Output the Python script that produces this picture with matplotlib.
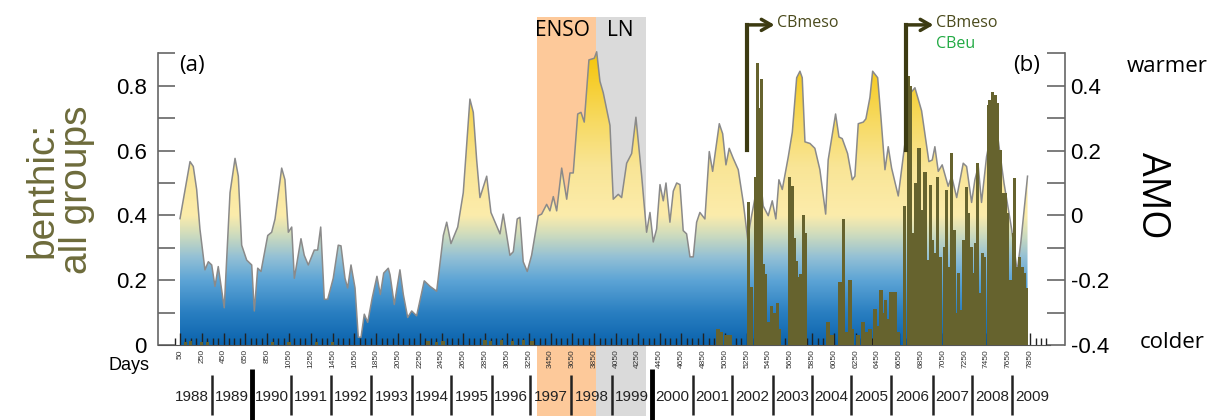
import numpy as np
import matplotlib
matplotlib.use("Agg")
import matplotlib.pyplot as plt
from matplotlib.colors import LinearSegmentedColormap
from matplotlib.transforms import blended_transform_factory
from matplotlib.patches import Rectangle

plt.rcParams['axes.unicode_minus'] = False
plt.rcParams['font.family'] = ['Liberation Sans', 'DejaVu Sans']

# AMO index (right axis), day number vs value
amo_days = [50, 142, 172, 203, 233, 279, 310, 341, 371, 401, 456, 509, 555, 585, 616, 662,
            708, 732, 763, 793, 855, 891, 922, 983, 1013, 1044, 1075, 1099, 1160, 1190, 1227,
            1282, 1313, 1341, 1374, 1405, 1456, 1502, 1527, 1564, 1588, 1619, 1656, 1686, 1711,
            1741, 1772, 1814, 1857, 1888, 1919, 1961, 1977, 2016, 2068, 2099, 2139, 2176, 2221,
            2291, 2344, 2405, 2466, 2497, 2536, 2598, 2649, 2710, 2741, 2772, 2802, 2864, 2903,
            2986, 3016, 3077, 3108, 3144, 3169, 3199, 3236, 3276, 3337, 3368, 3414, 3444, 3475,
            3506, 3552, 3598, 3628, 3658, 3699, 3729, 3759, 3802, 3851, 3873, 3903, 3933, 3995,
            4025, 4071, 4102, 4148, 4194, 4233, 4286, 4331, 4362, 4392, 4423, 4454, 4484, 4509,
            4545, 4576, 4607, 4637, 4667, 4698, 4729, 4759, 4790, 4820, 4866, 4906, 4937, 4998,
            5029, 5059, 5089, 5126, 5172, 5218, 5258, 5295, 5340, 5380, 5401, 5447, 5484, 5517,
            5545, 5576, 5631, 5668, 5708, 5738, 5759, 5784, 5830, 5875, 5921, 5974, 5997, 6065,
            6096, 6126, 6175, 6218, 6242, 6273, 6319, 6343, 6380, 6405, 6451, 6481, 6518, 6548,
            6579, 6640, 6701, 6756, 6793, 6854, 6891, 6921, 6952, 6976, 7007, 7043, 7098, 7130,
            7176, 7236, 7267, 7313, 7343, 7374, 7404, 7450, 7490, 7530, 7570, 7610, 7650, 7680,
            7731, 7765, 7826]
amo_vals = [-0.01, 0.166, 0.151, 0.08, -0.042, -0.168, -0.143, -0.153, -0.219, -0.158, -0.285,
            0.07, 0.176, 0.121, -0.092, -0.138, -0.153, -0.295, -0.163, -0.173, -0.062, -0.052,
            -0.011, 0.146, 0.11, -0.052, -0.036, -0.194, -0.072, -0.123, -0.153, -0.107, -0.107,
            -0.036, -0.259, -0.259, -0.194, -0.092, -0.094, -0.194, -0.224, -0.153, -0.224,
            -0.376, -0.376, -0.305, -0.33, -0.254, -0.188, -0.244, -0.178, -0.163, -0.183,
            -0.275, -0.168, -0.244, -0.315, -0.295, -0.31, -0.202, -0.219, -0.234, -0.062,
            -0.021, -0.087, -0.036, 0.07, 0.359, 0.318, 0.171, 0.055, 0.121, 0.009, -0.057,
            0.004, -0.123, -0.112, -0.011, -0.006, -0.143, -0.173, -0.123, -0.001, 0.004, 0.034,
            0.014, 0.058, 0.014, 0.146, 0.05, 0.131, 0.131, 0.313, 0.318, 0.288, 0.48, 0.485,
            0.505, 0.414, 0.379, 0.278, 0.05, 0.065, 0.055, 0.161, 0.191, 0.303, 0.121, -0.052,
            0.009, -0.082, -0.042, 0.095, 0.045, 0.1, -0.021, 0.075, 0.1, 0.095, -0.047, -0.057,
            -0.128, -0.128, -0.021, 0.009, -0.011, 0.197, 0.136, 0.283, 0.252, 0.156, 0.207,
            0.176, 0.141, 0.04, -0.072, 0.0, 0.08, 0.1, 0.029, -0.001, 0.045, -0.011, 0.11, 0.08,
            0.181, 0.257, 0.425, 0.445, 0.425, 0.227, 0.222, 0.207, 0.141, 0.004, 0.171, 0.313,
            0.242, 0.237, 0.191, 0.11, 0.121, 0.283, 0.288, 0.298, 0.364, 0.445, 0.425, 0.303,
            0.141, 0.212, 0.146, 0.06, 0.222, 0.379, 0.394, 0.323, 0.237, 0.166, 0.171, 0.212,
            0.136, 0.156, 0.09, 0.121, 0.055, 0.161, 0.151, 0.04, 0.11, 0.151, 0.04, 0.181, 0.25,
            0.3, 0.2, 0.1, 0.02, -0.042, -0.173, -0.082, 0.121]

# benthic: all groups (left axis)
bar_days = [100, 150, 250, 300, 900, 1050, 1300, 1450, 2325, 2400, 2463, 2848, 2900, 3000,
            3100, 3200, 3279, 4986, 5022, 5059, 5096,
            5264, 5295, 5332, 5346, 5371, 5387, 5401, 5423, 5447, 5478, 5502, 5533, 5554,
            5646, 5667, 5691, 5707, 5728, 5747, 5768, 5790,
            5995, 6032, 6105, 6138, 6160, 6197, 6224, 6270, 6316, 6353, 6380, 6426, 6453, 6481,
            6499, 6522, 6545, 6573, 6591, 6610, 6637,
            6701, 6731, 6756, 6777, 6799, 6830, 6854, 6885, 6903, 6933, 6958, 6976, 7001, 7031,
            7061, 7084, 7105, 7130, 7154, 7176, 7190, 7221, 7243, 7267, 7288, 7307, 7328, 7350,
            7368, 7389, 7410, 7435, 7465, 7481, 7502, 7520, 7533, 7552, 7573, 7594, 7619, 7637,
            7655, 7674, 7695, 7710, 7731, 7756, 7777, 7795, 7818]
bar_vals = [0.01, 0.012, 0.01, 0.008, 0.01, 0.01, 0.008, 0.01, 0.012, 0.01, 0.012, 0.015, 0.012,
            0.015, 0.012, 0.015, 0.012, 0.05, 0.04, 0.03, 0.03,
            0.44, 0.18, 0.52, 0.87, 0.73, 0.82, 0.25, 0.22, 0.07, 0.12, 0.10, 0.13, 0.05,
            0.52, 0.49, 0.33, 0.26, 0.21, 0.22, 0.40, 0.345,
            0.07, 0.03, 0.195, 0.39, 0.04, 0.20, 0.05, 0.03, 0.07, 0.04, 0.05, 0.11, 0.06, 0.17,
            0.10, 0.14, 0.08, 0.165, 0.06, 0.165, 0.04,
            0.43, 0.83, 0.80, 0.345, 0.50, 0.607, 0.417, 0.535, 0.262, 0.494, 0.324, 0.283,
            0.52, 0.273, 0.303, 0.478, 0.242, 0.592, 0.355, 0.098, 0.221, 0.108, 0.324, 0.489,
            0.406, 0.303, 0.221, 0.314, 0.561, 0.16, 0.283, 0.273, 0.741, 0.756, 0.782, 0.73,
            0.772, 0.746, 0.602, 0.468, 0.468, 0.406, 0.16, 0.2, 0.345, 0.514, 0.242, 0.273,
            0.242, 0.221, 0.175]

years = list(range(1988, 2010))
year_edges = [343, 710, 1068, 1435, 1802, 2178, 2536, 2912, 3261, 3637, 4013, 4380, 4756,
              5114, 5490, 5848, 6206, 6573, 6958, 7316, 7683]
thick_edges = [710, 4380]
enso_span = (3325, 3866)
ln_span = (3866, 4325)
cb_arrow_days = [5250, 6708]
day_ticks = list(range(50, 7851, 200))

fig = plt.figure(figsize=(12.18, 4.2), dpi=100)
axA = fig.add_axes([0.1297, 0.1786, 0.7447, 0.7174])   # AMO, right scale
axB = axA.twinx()                                        # benthic bars, left scale

# ENSO / La Nina bands (run through the tick label rows)
bt = blended_transform_factory(axA.transData, fig.transFigure)
for span, col in [(enso_span, '#fdc99a'), (ln_span, '#dadada')]:
    axA.add_patch(Rectangle((span[0], 1 - 416 / 420), span[1] - span[0], 399 / 420,
                            transform=bt, color=col, lw=0, zorder=0, clip_on=False))

# gradient fill under AMO
stops = [(-0.4, '#0b63ad'), (-0.3, '#2a7fc1'), (-0.2, '#5ea5d6'), (-0.13, '#93c0d5'),
         (-0.06, '#cfdcbd'), (0.0, '#fcecab'), (0.15, '#f9e596'), (0.3, '#f7d95e'),
         (0.45, '#f6ca1e'), (0.53, '#f5c400')]
cmap = LinearSegmentedColormap.from_list('amo', [((v + 0.4) / 0.93, c) for v, c in stops])
grad = np.linspace(0, 1, 256).reshape(-1, 1)
im = axA.imshow(grad, extent=[amo_days[0], amo_days[-1], -0.4, 0.53], origin='lower',
                aspect='auto', cmap=cmap, zorder=1)
poly = axA.fill_between(amo_days, -0.4, amo_vals, color='none', lw=0)
im.set_clip_path(poly.get_paths()[0], transform=axA.transData)
axA.plot(amo_days, amo_vals, color='#8a8a8a', lw=1.1, zorder=2)

axB.bar(bar_days, bar_vals, width=29, color='#66632e', lw=0, zorder=3)

# limits
axA.set_xlim(-152, 8170)
axB.set_ylim(0, 0.93)
axA.set_ylim(-0.4, 0.53)

# left axis
axB.yaxis.tick_left()
axB.set_yticks([0, 0.2, 0.4, 0.6, 0.8])
axB.set_yticklabels(['0', '0.2', '0.4', '0.6', '0.8'])
axB.set_yticks([0.1, 0.3, 0.5, 0.7, 0.9], minor=True)
axB.tick_params(axis='y', which='both', direction='in', length=12, width=1.2,
                color='#666666', labelsize=16, pad=8)
# right axis
axA.yaxis.tick_right()
axA.set_yticks([-0.4, -0.2, 0, 0.2, 0.4])
axA.set_yticklabels(['-0.4', '-0.2', '0', '0.2', '0.4'])
axA.set_yticks([-0.3, -0.1, 0.1, 0.3, 0.5], minor=True)
axA.tick_params(axis='y', which='both', direction='in', length=13, width=1.2,
                color='#666666', labelsize=16, pad=4)

for s in axA.spines.values():
    s.set_visible(False)
for s in axB.spines.values():
    s.set_visible(False)
axA.spines['right'].set_visible(True)
axA.spines['right'].set_bounds(-0.4, 0.5)
axA.spines['right'].set_color('#666666')
axA.spines['right'].set_linewidth(1.2)
axB.spines['left'].set_visible(True)
axB.spines['left'].set_bounds(0, 0.9)
axB.spines['left'].set_color('#666666')
axB.spines['left'].set_linewidth(1.2)
axB.spines['bottom'].set_visible(True)
axB.spines['bottom'].set_bounds(-152, 8030)
axB.spines['bottom'].set_color('#555555')

# x (days) ticks drawn on the upper axes so they sit over the bars
axA.tick_params(axis='x', which='both', bottom=False, labelbottom=False)
axB.xaxis.set_visible(True)
axB.set_xticks(day_ticks)
axB.set_xticklabels([str(d) for d in day_ticks], rotation=90)
axB.set_xticks(np.arange(0, 8050, 50), minor=True)
axB.tick_params(axis='x', which='major', direction='in', length=9, width=1, color='#222222',
                labelsize=6, labelcolor='#333333', pad=3)
axB.tick_params(axis='x', which='minor', direction='in', length=5, width=1, color='#222222')

# year row
yt = blended_transform_factory(axB.transData, fig.transFigure)
for e in year_edges:
    if e in thick_edges:
        axB.plot([e, e], [1 - 420 / 420, 1 - 369 / 420], color='black', lw=3.5,
                 transform=yt, clip_on=False, solid_capstyle='butt')
    else:
        axB.plot([e, e], [1 - 415 / 420, 1 - 375 / 420], color='#222222', lw=1.8,
                 transform=yt, clip_on=False, solid_capstyle='butt')
edges = [year_edges[0] - 365] + year_edges + [year_edges[-1] + 365]
for i, yr in enumerate(years):
    axB.text((edges[i] + edges[i + 1]) / 2, 1 - 397 / 420, str(yr), transform=yt,
             ha='center', va='center', fontsize=11, color='#222222', clip_on=False)

# CB arrows
olive_dark = '#3c3b12'
for d in cb_arrow_days:
    axB.plot([d, d], [0.602, 0.988], color=olive_dark, lw=3, clip_on=False,
             solid_capstyle='projecting', zorder=5)
    axB.annotate('', xy=(d + 255, 0.988), xytext=(d, 0.988), annotation_clip=False,
                 arrowprops=dict(arrowstyle='->,head_length=0.7,head_width=0.4',
                                 color=olive_dark, lw=2.5, shrinkA=0, shrinkB=0), zorder=5)
    axB.text(d + 280, 0.995, 'CBmeso', ha='left', va='center', fontsize=11.5,
             color='#4a4a1c', family='Open Sans', clip_on=False)
axB.text(cb_arrow_days[1] + 280, 0.93, 'CBeu', ha='left', va='center', fontsize=11.5,
         color='#22aa44', family='Open Sans', clip_on=False)

# labels
fig.text(192 / 1218, 1 - 66 / 420, '(a)', ha='center', va='center', fontsize=16,
         family='Open Sans')
fig.text(1027 / 1218, 1 - 66 / 420, '(b)', ha='center', va='center', fontsize=16,
         family='Open Sans')
fig.text(562 / 1218, 1 - 30 / 420, 'ENSO', ha='center', va='center', fontsize=15,
         family='Open Sans')
fig.text(620 / 1218, 1 - 30 / 420, 'LN', ha='center', va='center', fontsize=15,
         family='Open Sans')
fig.text(1167 / 1218, 1 - 66 / 420, 'warmer', ha='center', va='center', fontsize=16,
         family='Open Sans')
fig.text(1172 / 1218, 1 - 343 / 420, 'colder', ha='center', va='center', fontsize=16,
         family='Open Sans')
fig.text(1152 / 1218, 1 - 195 / 420, 'AMO', ha='center', va='center', fontsize=27,
         rotation=-90, family='Open Sans')
fig.text(150 / 1218, 1 - 366 / 420, 'Days', ha='right', va='center', fontsize=13)
fig.text(60 / 1218, 1 - 190 / 420, 'benthic:\nall groups', ha='center', va='center',
         rotation=90, fontsize=28, color='#6d6b3b', linespacing=0.95)

fig.savefig('out.png', dpi=100)
